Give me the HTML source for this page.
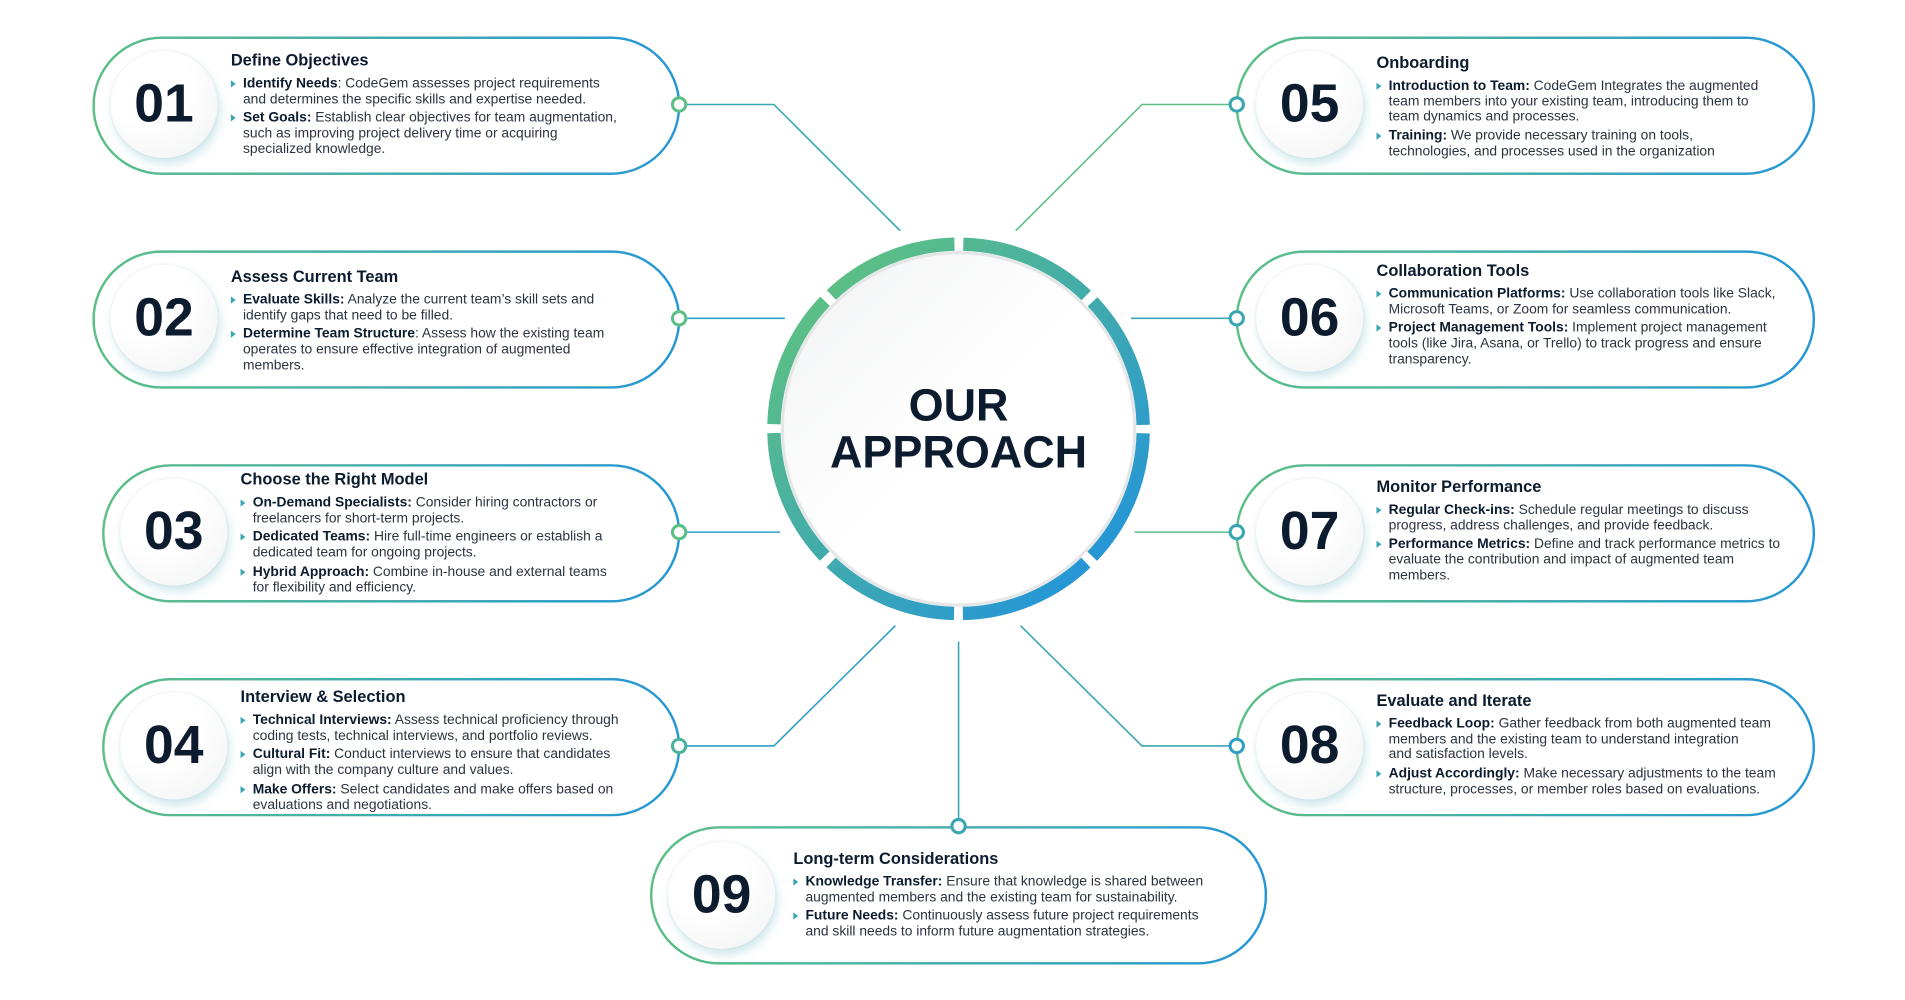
<!DOCTYPE html>
<html><head><meta charset="utf-8"><style>
html,body{margin:0;padding:0;background:#fff;width:1905px;height:1000px;overflow:hidden}
#st{position:absolute;left:0;top:0;width:1568px;height:823px;transform:scale(1.2149);transform-origin:0 0;font-family:"Liberation Sans",sans-serif;color:#15202e}
.card{position:absolute;box-sizing:border-box;border:2px solid transparent;border-radius:60px;background:linear-gradient(#fff,#fff) padding-box,linear-gradient(90deg,#5cbf85,#2596d6) border-box}
.num{position:absolute;width:88px;height:88px;border-radius:50%;background:radial-gradient(circle at 35% 30%,#fff 40%,#f0f1f2 100%);box-shadow:2px 5px 8px rgba(120,190,200,.35),0 0 3px rgba(0,0,0,.08);font-weight:bold;font-size:44px;line-height:88px;text-align:center;color:#0c1b2e}
.tx{position:absolute;font-size:11.4px;line-height:12.8px;color:#2a3440}
.tx h3{margin:0 0 6px 0;font-size:13.5px;font-weight:bold;color:#0c1b2e}
.tx p{margin:0 0 3px 0;padding-left:10px;position:relative}
.tx p:before{content:"";position:absolute;left:0;top:3px;border-left:4px solid #3aa6b0;border-top:3px solid transparent;border-bottom:3px solid transparent}
.tx b{color:#0c1b2e}
</style></head><body><div id="st">
<svg width="1568" height="823" style="position:absolute;left:0;top:0">
<defs>
<linearGradient id="g" gradientUnits="userSpaceOnUse" x1="680" y1="240" x2="900" y2="470"><stop offset="0" stop-color="#5cbf85"/><stop offset="1" stop-color="#2596d6"/></linearGradient>
<linearGradient id="ig" x1="0" y1="0" x2="1" y2="1"><stop offset="0" stop-color="#f1f2f3"/><stop offset=".5" stop-color="#fff"/></linearGradient>
</defs>
<g fill="none" stroke-width="1.3">
<polyline points="558,86 637,86 741,190" stroke="#3aa6b0"/>
<polyline points="558,262 646,262" stroke="#2f9fc8"/>
<polyline points="558,438 642,438" stroke="#2f9fc8"/>
<polyline points="558,614 637,614 737,515" stroke="#2f9fc8"/>
<polyline points="1018,86 940,86 836,190" stroke="#5cbf85"/>
<polyline points="1018,262 931,262" stroke="#3aa6b0"/>
<polyline points="1018,438 934,438" stroke="#5cbf85"/>
<polyline points="1018,614 940,614 840,515" stroke="#3aa6b0"/>
<line x1="789" y1="528" x2="789" y2="680" stroke="#3aa6b0"/>
</g>
<circle cx="789" cy="353" r="152" fill="none" stroke="url(#g)" stroke-width="11" stroke-dasharray="112 7.38" stroke-dashoffset="-3.69"/>
<circle cx="789" cy="353" r="145" fill="url(#ig)" stroke="#e4e6e8" stroke-width="2.5"/>
<text x="789" y="346" text-anchor="middle" font-family="Liberation Sans" font-weight="bold" font-size="37" fill="#0c1b2e">OUR</text>
<text x="789" y="385" text-anchor="middle" font-family="Liberation Sans" font-weight="bold" font-size="37" fill="#0c1b2e">APPROACH</text>
</svg>

<div class="card" style="left:76px;top:30px;width:484px;height:114px"></div>
<div class="card" style="left:76px;top:206px;width:484px;height:114px"></div>
<div class="card" style="left:84px;top:382px;width:476px;height:114px"></div>
<div class="card" style="left:84px;top:558px;width:476px;height:114px"></div>
<div class="card" style="left:1017px;top:30px;width:477px;height:114px"></div>
<div class="card" style="left:1017px;top:206px;width:477px;height:114px"></div>
<div class="card" style="left:1017px;top:382px;width:477px;height:114px"></div>
<div class="card" style="left:1017px;top:558px;width:477px;height:114px"></div>
<div class="card" style="left:535px;top:680px;width:508px;height:114px"></div>

<svg width="1568" height="823" style="position:absolute;left:0;top:0">
<g fill="#fff" stroke-width="2.5">
<circle cx="559" cy="86" r="5.5" stroke="#5cbf85"/>
<circle cx="559" cy="262" r="5.5" stroke="#5cbf85"/>
<circle cx="559" cy="438" r="5.5" stroke="#5cbf85"/>
<circle cx="559" cy="614" r="5.5" stroke="#4bb39a"/>
<circle cx="1018" cy="86" r="5.5" stroke="#3aa6b0"/>
<circle cx="1018" cy="262" r="5.5" stroke="#3aa6b0"/>
<circle cx="1018" cy="438" r="5.5" stroke="#3aa6b0"/>
<circle cx="1018" cy="614" r="5.5" stroke="#2f9fc8"/>
<circle cx="789" cy="680" r="5.5" stroke="#3aa6b0"/>
</g></svg>

<div class="num" style="left:91px;top:42px">01</div>
<div class="num" style="left:91px;top:218px">02</div>
<div class="num" style="left:99px;top:394px">03</div>
<div class="num" style="left:99px;top:570px">04</div>
<div class="num" style="left:1034px;top:42px">05</div>
<div class="num" style="left:1034px;top:218px">06</div>
<div class="num" style="left:1034px;top:394px">07</div>
<div class="num" style="left:1034px;top:570px">08</div>
<div class="num" style="left:550px;top:693px">09</div>

<div class="tx" style="left:190px;top:44px"><h3>Define Objectives</h3>
<p><b>Identify Needs</b>: CodeGem assesses project requirements<br>and determines the specific skills and expertise needed.</p>
<p><b>Set Goals:</b> Establish clear objectives for team augmentation,<br>such as improving project delivery time or acquiring<br>specialized knowledge.</p></div>

<div class="tx" style="left:190px;top:222px"><h3>Assess Current Team</h3>
<p><b>Evaluate Skills:</b> Analyze the current team’s skill sets and<br>identify gaps that need to be filled.</p>
<p><b>Determine Team Structure</b>: Assess how the existing team<br>operates to ensure effective integration of augmented<br>members.</p></div>

<div class="tx" style="left:198px;top:389px"><h3>Choose the Right Model</h3>
<p><b>On-Demand Specialists:</b> Consider hiring contractors or<br>freelancers for short-term projects.</p>
<p><b>Dedicated Teams:</b> Hire full-time engineers or establish a<br>dedicated team for ongoing projects.</p>
<p><b>Hybrid Approach:</b> Combine in-house and external teams<br>for flexibility and efficiency.</p></div>

<div class="tx" style="left:198px;top:568px"><h3>Interview &amp; Selection</h3>
<p><b>Technical Interviews:</b> Assess technical proficiency through<br>coding tests, technical interviews, and portfolio reviews.</p>
<p><b>Cultural Fit:</b> Conduct interviews to ensure that candidates<br>align with the company culture and values.</p>
<p><b>Make Offers:</b> Select candidates and make offers based on<br>evaluations and negotiations.</p></div>

<div class="tx" style="left:1133px;top:46px"><h3>Onboarding</h3>
<p><b>Introduction to Team:</b> CodeGem Integrates the augmented<br>team members into your existing team, introducing them to<br>team dynamics and processes.</p>
<p><b>Training:</b> We provide necessary training on tools,<br>technologies, and processes used in the organization</p></div>

<div class="tx" style="left:1133px;top:217px"><h3>Collaboration Tools</h3>
<p><b>Communication Platforms:</b> Use collaboration tools like Slack,<br>Microsoft Teams, or Zoom for seamless communication.</p>
<p><b>Project Management Tools:</b> Implement project management<br>tools (like Jira, Asana, or Trello) to track progress and ensure<br>transparency.</p></div>

<div class="tx" style="left:1133px;top:395px"><h3>Monitor Performance</h3>
<p><b>Regular Check-ins:</b> Schedule regular meetings to discuss<br>progress, address challenges, and provide feedback.</p>
<p><b>Performance Metrics:</b> Define and track performance metrics to<br>evaluate the contribution and impact of augmented team<br>members.</p></div>

<div class="tx" style="left:1133px;top:571px"><h3>Evaluate and Iterate</h3>
<p><b>Feedback Loop:</b> Gather feedback from both augmented team<br>members and the existing team to understand integration<br>and satisfaction levels.</p>
<p><b>Adjust Accordingly:</b> Make necessary adjustments to the team<br>structure, processes, or member roles based on evaluations.</p></div>

<div class="tx" style="left:653px;top:701px"><h3>Long-term Considerations</h3>
<p><b>Knowledge Transfer:</b> Ensure that knowledge is shared between<br>augmented members and the existing team for sustainability.</p>
<p><b>Future Needs:</b> Continuously assess future project requirements<br>and skill needs to inform future augmentation strategies.</p></div>
</div></body></html>
